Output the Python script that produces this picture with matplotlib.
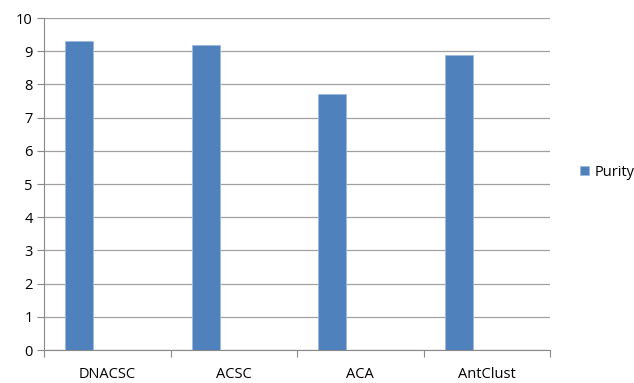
import matplotlib
matplotlib.use("Agg")
import matplotlib.pyplot as plt
import numpy as np

categories = ["DNACSC", "ACSC", "ACA", "AntClust"]
purity = [9.3, 9.2, 7.7, 8.9]

plt.rcParams['font.family'] = ['Open Sans', 'DejaVu Sans']

fig = plt.figure(figsize=(6.34, 3.83), dpi=100)
ax = fig.add_axes([44/634, 33/383, 506/634, 332/383])

x = np.arange(len(categories))
w = 1 / 4.5
ax.bar(x - w, purity, width=w, align='center', color='#4F81BD',
       edgecolor='#9DB9DC', linewidth=0.6, label='Purity', zorder=3)

ax.set_xlim(-0.5, len(categories) - 0.5)
ax.set_ylim(0, 10)
ax.set_yticks(range(0, 11))
ax.yaxis.grid(True, color='#a0a0a0', linewidth=0.9, zorder=0)

ax.set_xticks(np.arange(-0.5, len(categories)))
ax.set_xticklabels([])
ax.set_xticks(x, minor=True)
ax.set_xticklabels(categories, minor=True)
ax.tick_params(axis='x', which='minor', length=0, pad=12, labelsize=10.5)
ax.tick_params(axis='x', which='major', length=5, color='#888888', direction='out')
ax.tick_params(axis='y', length=5, color='#888888', labelsize=10.5, pad=3)

for s in ['top', 'right']:
    ax.spines[s].set_visible(False)
for s in ['left', 'bottom']:
    ax.spines[s].set_color('#888888')

fig.legend(loc='center left', bbox_to_anchor=(580/634, 1 - 172/383), frameon=False,
           fontsize=10.5, handlelength=0.6, handleheight=0.6, handletextpad=0.4,
           borderaxespad=0, borderpad=0)

fig.savefig("out.png", dpi=100)
